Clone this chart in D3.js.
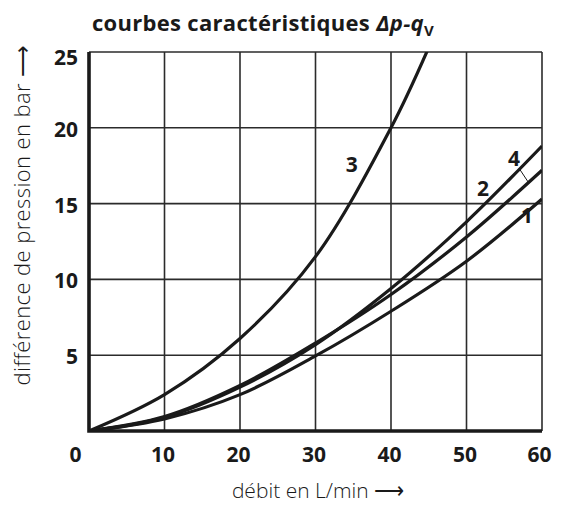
<!DOCTYPE html>
<html>
<head>
<meta charset="utf-8">
<script src="https://cdn.jsdelivr.net/npm/d3@7"></script>
<style>
  body { margin: 0; background: #fff; }
  svg { display: block; font-family: "Open Sans", "Noto Sans", sans-serif; }
</style>
</head>
<body>
<div id="chart-area"></div>
<script>
// débit q (L/min)
const flow = [0, 10, 20, 30, 40, 50, 60];
const flow3 = [0, 10, 20, 30, 40, 45];

// Δp (bar)
const curve1 = [0, 0.8, 2.4, 4.95, 7.9, 11.2, 15.3];
const curve2 = [0, 0.9, 2.9, 5.7, 9.4, 13.8, 18.8];
const curve4 = [0, 0.95, 3.0, 5.8, 9.0, 12.8, 17.2];
const curve3 = [0, 2.4, 6.1, 11.5, 20, 25.3];

const xTicks = [0, 10, 20, 30, 40, 50, 60];
const yTicks = [5, 10, 15, 20, 25];

// curve numbers, anchored in data units
const curveLabels = [
    { text: "1", q: 58.0, p: 14.2 },
    { text: "2", q: 52.2, p: 16.0 },
    { text: "4", q: 56.3, p: 18.0 },
    { text: "3", q: 34.8, p: 17.6 }
];

const svg = d3.select('#chart-area')
    .append('svg')
    .attr('width', 561)
    .attr('height', 506);

const x = d3.scaleLinear().domain([0, 60]).range([89, 542]);
const y = d3.scaleLinear().domain([0, 25]).range([431, 52]);

// clip for the curves
svg.append("clipPath").attr("id", "plot")
    .append("rect")
    .attr("x", x(0)).attr("y", y(25))
    .attr("width", x(60) - x(0)).attr("height", y(0) - y(25));

// grid
const grid = svg.append("g").attr("stroke", "#2b2b2b").attr("stroke-width", 1.6);
grid.selectAll("line.v")
    .data(xTicks.filter(d => d > 0))
    .enter().append("line")
    .attr("x1", d => x(d)).attr("x2", d => x(d))
    .attr("y1", y(0)).attr("y2", y(25));
grid.selectAll("line.h")
    .data(yTicks)
    .enter().append("line")
    .attr("x1", x(0)).attr("x2", x(60))
    .attr("y1", d => y(d)).attr("y2", d => y(d));

// curves
const line = d3.line()
    .x(d => x(d[0]))
    .y(d => y(d[1]))
    .curve(d3.curveCatmullRom.alpha(0.5));

const series = [
    d3.zip(flow, curve1),
    d3.zip(flow, curve2),
    d3.zip(flow, curve4),
    d3.zip(flow3, curve3)
];

svg.append("g")
    .attr("clip-path", "url(#plot)")
    .selectAll("path")
    .data(series)
    .enter().append("path")
    .attr("d", line)
    .attr("fill", "none")
    .attr("stroke", "#1a1a1a")
    .attr("stroke-width", 3.2);

// heavy axis lines (left and bottom)
svg.append("path")
    .attr("d", "M" + x(0) + "," + y(25) + "V" + y(0) + "H" + x(60))
    .attr("fill", "none")
    .attr("stroke", "#1a1a1a")
    .attr("stroke-width", 3.6);

// X axis
const xAxisGroup = svg.append("g")
    .attr("transform", "translate(0," + y(0) + ")")
    .call(d3.axisBottom(x).tickValues(xTicks).tickSize(0).tickPadding(16));
xAxisGroup.select(".domain").remove();
xAxisGroup.selectAll("text")
    .attr("dy", "0.71em")
    .attr("x", d => d === 0 ? -14 : (d === 60 ? -3 : -2))
    .style("font-size", "21px")
    .style("font-weight", "bold")
    .style("font-family", "'Open Sans', sans-serif")
    .attr("fill", "#1a1a1a");

// Y axis
const yAxisGroup = svg.append("g")
    .attr("transform", "translate(" + x(0) + ",0)")
    .call(d3.axisLeft(y).tickValues(yTicks).tickSize(0).tickPadding(11));
yAxisGroup.select(".domain").remove();
yAxisGroup.selectAll("text")
    .attr("dy", d => d === 25 ? "0.6em" : "0.4em")
    .style("font-size", "21px")
    .style("font-weight", "bold")
    .style("font-family", "'Open Sans', sans-serif")
    .attr("fill", "#1a1a1a");

// curve numbers
svg.append("g").selectAll("text")
    .data(curveLabels)
    .enter().append("text")
    .attr("x", d => x(d.q))
    .attr("y", d => y(d.p))
    .attr("dy", "0.36em")
    .attr("text-anchor", "middle")
    .style("font-size", "21px")
    .style("font-weight", "bold")
    .attr("fill", "#1a1a1a")
    .text(d => d.text);

// leader for curve 4
svg.append("line")
    .attr("x1", x(57.0)).attr("y1", y(17.3))
    .attr("x2", x(58.2)).attr("y2", y(16.4))
    .attr("stroke", "#1a1a1a")
    .attr("stroke-width", 1);

// title
const title = svg.append("text")
    .attr("x", 92).attr("y", 31)
    .style("font-size", "22px")
    .style("font-weight", "bold")
    .style("letter-spacing", "0.3px")
    .attr("fill", "#1a1a1a");
title.append("tspan").text("courbes caractéristiques ");
title.append("tspan").style("font-style", "italic").text("Δp-q");
title.append("tspan").attr("dy", 5).style("font-size", "15px").text("V");

// axis titles
const xTitle = svg.append("text")
    .attr("x", 318).attr("y", 492)
    .attr("dy", "0.3em")
    .attr("text-anchor", "middle")
    .style("font-size", "21px")
    .style("font-weight", 300)
    .attr("fill", "#1a1a1a");
xTitle.append("tspan").text("débit en L/min ");
xTitle.append("tspan").style("font-family", "'DejaVu Sans'").style("font-weight", 200).text("⟶");

const yTitle = svg.append("text")
    .attr("transform", "translate(22,215) rotate(-90)")
    .attr("dy", "0.35em")
    .attr("text-anchor", "middle")
    .style("font-size", "22px")
    .style("font-weight", 300)
    .style("letter-spacing", "0.4px")
    .attr("fill", "#1a1a1a");
yTitle.append("tspan").text("différence de pression en bar ");
yTitle.append("tspan").style("font-family", "'DejaVu Sans'").style("font-weight", 200).text("⟶");
</script>
</body>
</html>
